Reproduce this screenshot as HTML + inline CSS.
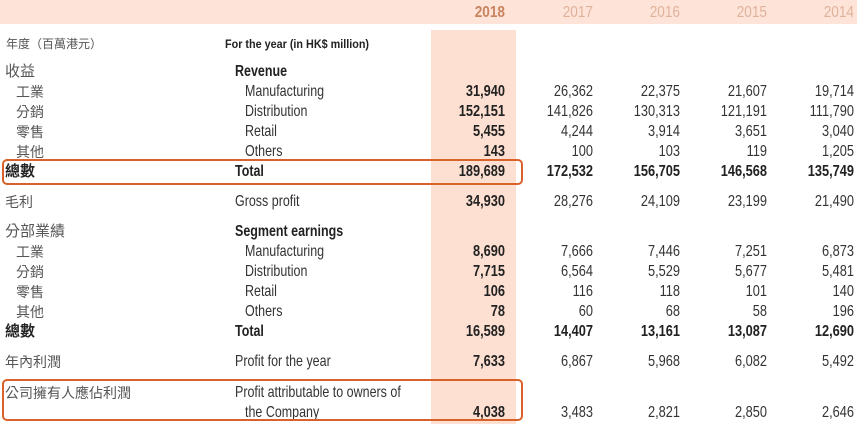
<!DOCTYPE html>
<html><head><meta charset="utf-8"><style>
body{margin:0;width:864px;height:424px;background:#fff;position:relative;overflow:hidden;font-family:"Liberation Sans","Noto Sans CJK TC",sans-serif;color:#333;}
.t{position:absolute;white-space:nowrap;font-size:16px;line-height:18px;}
.e{transform:scaleX(0.78);transform-origin:left center;}
.c{font-size:14px;color:#555;}
.r{text-align:right;width:100px;transform:scaleX(0.8);transform-origin:right center;}
.b{font-weight:bold;color:#222;}
.y{position:absolute;top:4px;font-size:16px;color:#e0b29c;text-align:right;width:60px;transform:scaleX(0.85);transform-origin:right center;}
.box{position:absolute;border:2.5px solid #d9622b;border-radius:5px;}
</style></head><body>
<div style="position:absolute;left:0;top:0;width:857px;height:24px;background:#fde3d8"></div>
<div style="position:absolute;left:431px;top:30px;width:85px;height:394px;background:#fde0d2"></div>
<div class="y" style="left:445px;color:#c8845f;font-weight:bold">2018</div>
<div class="y" style="left:533px">2017</div>
<div class="y" style="left:620px">2016</div>
<div class="y" style="left:707px">2015</div>
<div class="y" style="left:794px">2014</div>

<div class="t c" style="left:6px;top:35px;font-size:12px">年度（百萬港元）</div>
<div class="t b" style="left:225px;top:35px;font-size:12px;transform:scaleX(0.9);transform-origin:left center">For the year (in HK$ million)</div>

<div id="rows"></div>
<script>
const rows=[
[63,"收益","Revenue",null,1,0],
[83,"工業","Manufacturing",["31,940","26,362","22,375","21,607","19,714"],0,1],
[103,"分銷","Distribution",["152,151","141,826","130,313","121,191","111,790"],0,1],
[123,"零售","Retail",["5,455","4,244","3,914","3,651","3,040"],0,1],
[143,"其他","Others",["143","100","103","119","1,205"],0,1],
[163,"總數","Total",["189,689","172,532","156,705","146,568","135,749"],2,0],
[193,"毛利","Gross profit",["34,930","28,276","24,109","23,199","21,490"],0,0],
[223,"分部業績","Segment earnings",null,1,0],
[243,"工業","Manufacturing",["8,690","7,666","7,446","7,251","6,873"],0,1],
[263,"分銷","Distribution",["7,715","6,564","5,529","5,677","5,481"],0,1],
[283,"零售","Retail",["106","116","118","101","140"],0,1],
[303,"其他","Others",["78","60","68","58","196"],0,1],
[323,"總數","Total",["16,589","14,407","13,161","13,087","12,690"],2,0],
[353,"年內利潤","Profit for the year",["7,633","6,867","5,968","6,082","5,492"],0,0],
[384,"公司擁有人應佔利潤","Profit attributable to owners of",null,0,0],
[404,"","the Company",["4,038","3,483","2,821","2,850","2,646"],0,1],
];
const rx=[405,493,580,667,754];
let h="";
for(const [y,zh,en,v,bold,ind] of rows){
 if(zh)h+=`<div class="t c${bold==2?' b':''}" style="left:${ind?16:5}px;top:${y}px;font-size:${bold?15:14}px">${zh}</div>`;
 h+=`<div class="t e${bold?' b':''}" style="left:${ind?245:235}px;top:${y}px">${en}</div>`;
 if(v)v.forEach((s,i)=>{h+=`<div class="t r${(i==0||bold==2)?' b':''}" style="left:${rx[i]}px;top:${y}px">${s}</div>`});
}
document.getElementById("rows").innerHTML=h;
</script>
<div class="box" style="left:2px;top:159px;width:517px;height:22px"></div>
<div class="box" style="left:2px;top:379px;width:517px;height:38px"></div>
</body></html>
